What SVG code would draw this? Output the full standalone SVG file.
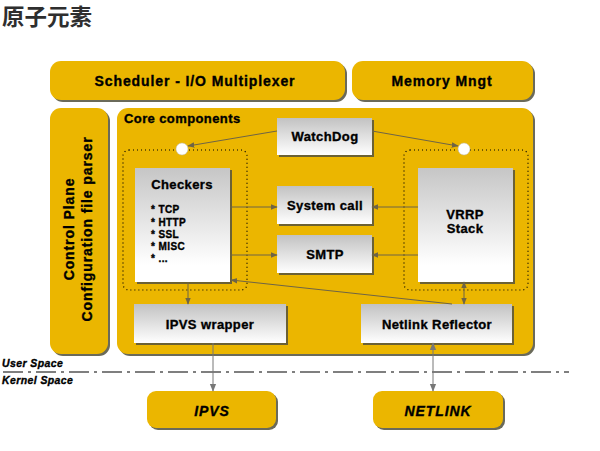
<svg xmlns="http://www.w3.org/2000/svg" width="600" height="451" viewBox="0 0 600 451">
<defs>
<linearGradient id="gb" x1="0" y1="0" x2="0" y2="1">
<stop offset="0" stop-color="#c2c2c2"/>
<stop offset="1" stop-color="#ffffff"/>
</linearGradient>
<linearGradient id="gv" x1="0" y1="0" x2="0" y2="1">
<stop offset="0" stop-color="#c6c6c6"/>
<stop offset="0.85" stop-color="#ffffff"/>
</linearGradient>
<marker id="ah" viewBox="0 0 10 10" refX="9" refY="5" markerWidth="7" markerHeight="7" orient="auto-start-reverse" markerUnits="userSpaceOnUse">
<path d="M0,1 L10,5 L0,9 Z" fill="#6e6446"/>
</marker>
<marker id="ag" viewBox="0 0 10 10" refX="9" refY="5" markerWidth="8" markerHeight="8" orient="auto-start-reverse" markerUnits="userSpaceOnUse">
<path d="M0,1 L10,5 L0,9 Z" fill="#777"/>
</marker>
</defs>
<style>
.y{fill:#ebb600}
.ys{fill:#6a6a5a}
.g{fill:url(#gb)}
.gs{fill:#6b6135}
.t{font-family:"Liberation Sans",Arial,sans-serif;font-weight:bold;fill:#000;stroke:#000;stroke-width:0.35}
.c{text-anchor:middle}
.w{letter-spacing:0.9px}
.w4{letter-spacing:0.4px}
.ln{stroke:#6e6446;stroke-width:1;fill:none}
.lg{stroke:#777;stroke-width:1;fill:none}
.dot{fill:none;stroke:#000;stroke-width:1.2;stroke-dasharray:1 3}
</style>
<rect width="600" height="451" fill="#fff"/>
<text x="2" y="25" font-family="'Noto Sans CJK SC',sans-serif" font-weight="bold" font-size="22.5" fill="#2e2e2e">原子元素</text>

<g id="scheduler">
<rect x="52" y="63" width="295" height="39" rx="11" class="ys"/>
<rect x="50" y="61" width="295" height="39" rx="11" class="y"/>
<text x="195" y="86" class="t c w" font-size="14">Scheduler - I/O Multiplexer</text>
</g>
<g id="memory">
<rect x="354" y="63" width="181" height="39" rx="11" class="ys"/>
<rect x="352" y="61" width="181" height="39" rx="11" class="y"/>
<text x="442" y="86" class="t c w" font-size="14">Memory Mngt</text>
</g>
<g id="control-plane">
<rect x="52" y="110" width="58" height="246" rx="11" class="ys"/>
<rect x="50" y="108" width="58" height="246" rx="11" class="y"/>
<text transform="translate(74,229) rotate(-90)" class="t c w" font-size="14">Control Plane</text>
<text transform="translate(92,229) rotate(-90)" class="t c w" font-size="14">Configuration file parser</text>
</g>
<g id="core">
<rect x="119" y="110" width="416" height="246" rx="11" class="ys"/>
<rect x="117" y="108" width="416" height="246" rx="11" class="y"/>
<text x="124" y="123" class="t w4" font-size="13">Core components</text>
<rect x="123" y="150" width="124" height="140" rx="6" class="dot"/>
<rect x="404" y="150" width="124" height="140" rx="6" class="dot"/>
</g>
<g id="watchdog">
<rect x="279" y="120" width="95" height="37" class="gs"/>
<rect x="277" y="118" width="95" height="37" class="g"/>
<text x="325" y="141" class="t c w4" font-size="13">WatchDog</text>
</g>
<g id="checkers">
<rect x="137" y="170" width="95" height="114" class="gs"/>
<rect x="135" y="168" width="95" height="114" fill="url(#gv)"/>
<text x="182" y="189" class="t c w4" font-size="13">Checkers</text>
<text class="t w4" font-size="10">
<tspan x="151" y="213">* TCP</tspan>
<tspan x="151" y="226">* HTTP</tspan>
<tspan x="151" y="238">* SSL</tspan>
<tspan x="151" y="250">* MISC</tspan>
<tspan x="151" y="262">* ...</tspan>
</text>
</g>
<g id="syscall">
<rect x="279" y="188" width="95" height="38" class="gs"/>
<rect x="277" y="186" width="95" height="38" class="g"/>
<text x="325" y="210" class="t c w4" font-size="13">System call</text>
</g>
<g id="smtp">
<rect x="279" y="237" width="95" height="38" class="gs"/>
<rect x="277" y="235" width="95" height="38" class="g"/>
<text x="325" y="259" class="t c w4" font-size="13">SMTP</text>
</g>
<g id="vrrp">
<rect x="420" y="170" width="95" height="114" class="gs"/>
<rect x="418" y="168" width="95" height="114" fill="url(#gv)"/>
<text x="465" y="219" class="t c w4" font-size="13">VRRP</text>
<text x="465" y="233" class="t c w4" font-size="13">Stack</text>
</g>
<g id="ipvs-wrapper">
<rect x="136" y="306" width="152" height="39" class="gs"/>
<rect x="134" y="304" width="152" height="39" class="g"/>
<text x="210" y="329" class="t c w4" font-size="13">IPVS wrapper</text>
</g>
<g id="netlink-reflector">
<rect x="363" y="306" width="151" height="39" class="gs"/>
<rect x="361" y="304" width="151" height="39" class="g"/>
<text x="437" y="329" class="t c w4" font-size="13">Netlink Reflector</text>
</g>
<g id="ipvs">
<rect x="149" y="393" width="129" height="37" rx="9" class="ys"/>
<rect x="147" y="391" width="129" height="37" rx="9" class="y"/>
<text x="212" y="416" class="t c w" font-size="14" font-style="italic">IPVS</text>
</g>
<g id="netlink">
<rect x="375" y="393" width="130" height="37" rx="9" class="ys"/>
<rect x="373" y="391" width="130" height="37" rx="9" class="y"/>
<text x="438" y="416" class="t c w" font-size="14" font-style="italic">NETLINK</text>
</g>
<g id="space">
<text x="2" y="367" class="t w4" font-size="10.5" font-style="italic">User Space</text>
<text x="2" y="384" class="t w4" font-size="10.5" font-style="italic">Kernel Space</text>
<line x1="3" y1="372" x2="569" y2="372" stroke="#000" stroke-width="1.2" stroke-dasharray="20 5 3 5"/>
</g>
<g id="connectors">
<circle cx="182" cy="149" r="6" fill="#fff" stroke="#bbb" stroke-width="0.5"/>
<circle cx="464" cy="149" r="6" fill="#fff" stroke="#bbb" stroke-width="0.5"/>
<line x1="277" y1="131" x2="188" y2="146" class="ln" marker-end="url(#ah)"/>
<line x1="372" y1="131" x2="458" y2="146" class="ln" marker-end="url(#ah)"/>
<line x1="230" y1="207" x2="277" y2="207" class="ln" marker-end="url(#ah)"/>
<line x1="230" y1="255" x2="277" y2="255" class="ln" marker-end="url(#ah)"/>
<line x1="418" y1="207" x2="372" y2="207" class="ln" marker-end="url(#ah)"/>
<line x1="418" y1="255" x2="372" y2="255" class="ln" marker-end="url(#ah)"/>
<line x1="188" y1="282" x2="188" y2="304" class="ln" marker-end="url(#ah)"/>
<line x1="452" y1="304" x2="231" y2="280" class="ln" marker-end="url(#ah)"/>
<line x1="464" y1="282" x2="464" y2="304" class="ln" marker-start="url(#ah)" marker-end="url(#ah)"/>
<line x1="213" y1="343" x2="213" y2="391" class="lg" marker-end="url(#ag)"/>
<line x1="433" y1="343" x2="433" y2="391" class="lg" marker-start="url(#ag)" marker-end="url(#ag)"/>
</g>
</svg>
